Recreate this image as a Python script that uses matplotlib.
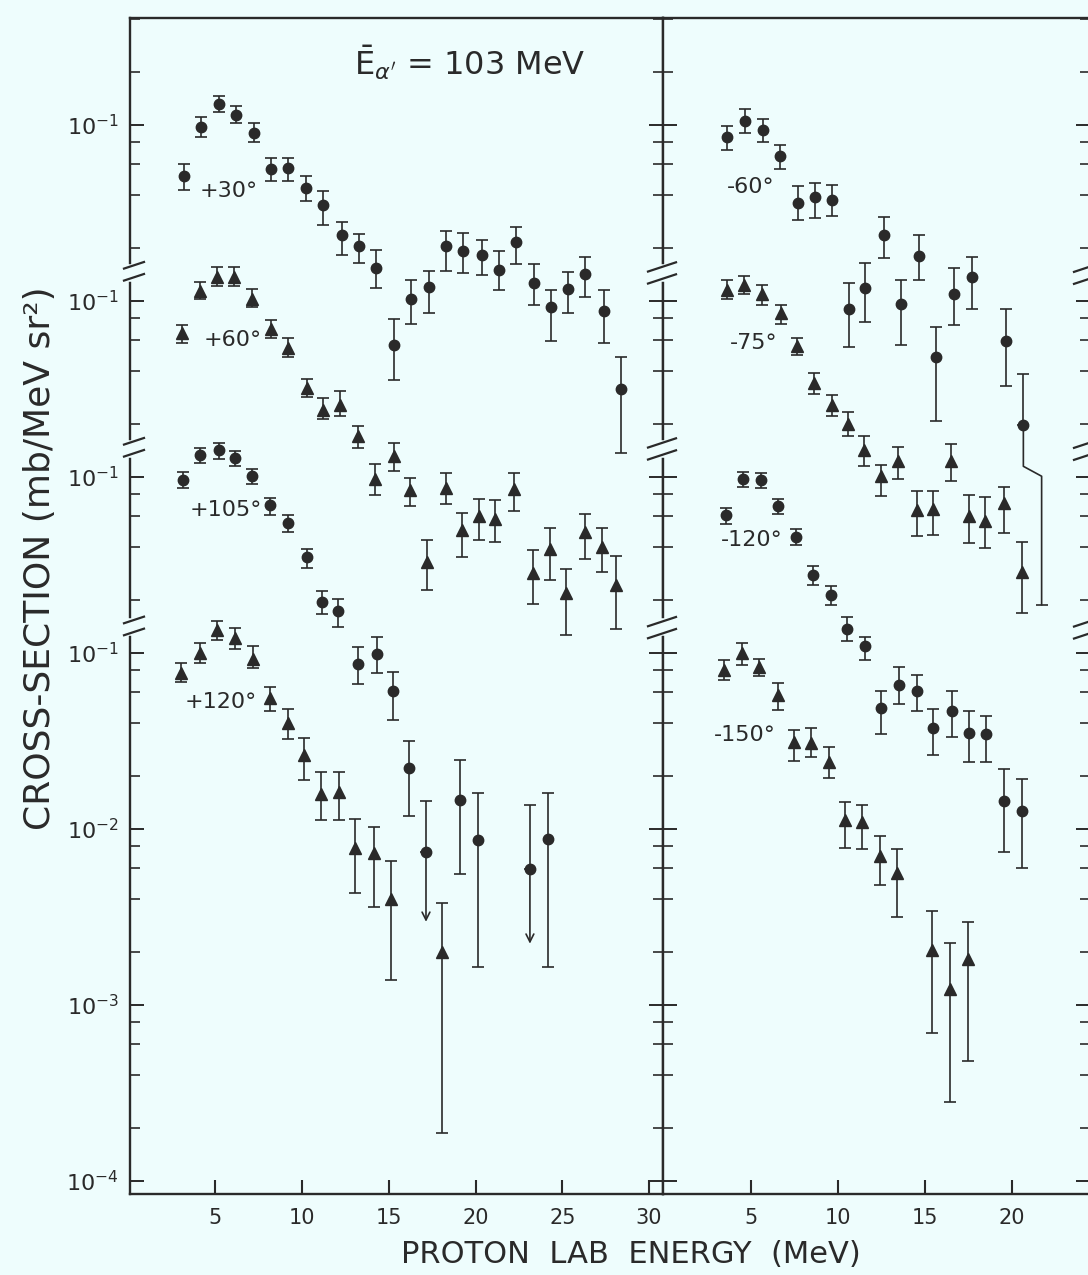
import numpy as np
import matplotlib
matplotlib.use("Agg")
import matplotlib.pyplot as plt
from matplotlib.lines import Line2D
from matplotlib.transforms import IdentityTransform
from matplotlib.ticker import FixedLocator, FixedFormatter, LogLocator, NullFormatter

plt.rcParams["font.family"] = ["DejaVu Sans"]
plt.rcParams["mathtext.fontset"] = "dejavusans"

BG = "#eefdfd"
INK = "#2a2a2a"

# ── data: proton energy (MeV), cross-section, lower / upper error ends ──
# left panel, positive angles
E_P30 = [3.2, 4.2, 5.2, 6.2, 7.2, 8.2, 9.2, 10.25, 11.2, 12.3, 13.3, 14.25, 15.3,
         16.3, 17.3, 18.3, 19.3, 20.35, 21.35, 22.35, 23.35, 24.35, 25.3, 26.3, 27.4, 28.4]
Y_P30 = [0.0512, 0.098, 0.132, 0.114, 0.090, 0.056, 0.057, 0.044, 0.035, 0.0238, 0.0205,
         0.0155, 0.0056, 0.0102, 0.0120, 0.0205, 0.0192, 0.0182, 0.0150, 0.0216, 0.0127,
         0.0092, 0.0117, 0.0142, 0.0088, 0.00316]
LO_P30 = [0.043, 0.0855, 0.118, 0.102, 0.080, 0.048, 0.048, 0.037, 0.027, 0.0182, 0.0165,
          0.0119, 0.00354, 0.0074, 0.0085, 0.0149, 0.0144, 0.0140, 0.0116, 0.0163, 0.0095,
          0.0059, 0.0085, 0.0105, 0.0058, 0.00137]
HI_P30 = [0.060, 0.111, 0.147, 0.129, 0.102, 0.065, 0.065, 0.051, 0.042, 0.028, 0.024,
          0.0196, 0.0079, 0.0131, 0.0148, 0.025, 0.0243, 0.0223, 0.0192, 0.0262, 0.0162,
          0.0116, 0.0146, 0.0177, 0.0116, 0.00479]

E_P60 = [3.06, 4.1, 5.1, 6.1, 7.1, 8.2, 9.2, 10.3, 11.2, 12.2, 13.2, 14.2, 15.3, 16.2,
         17.2, 18.3, 19.2, 20.2, 21.1, 22.2, 23.3, 24.3, 25.2, 26.3, 27.3, 28.1]
Y_P60 = [0.066, 0.114, 0.137, 0.137, 0.102, 0.069, 0.054, 0.032, 0.024, 0.0258, 0.0170,
         0.0097, 0.0131, 0.0084, 0.0033, 0.0087, 0.0050, 0.0060, 0.0058, 0.0085, 0.00285,
         0.0039, 0.0022, 0.00485, 0.0040, 0.00244]
LO_P60 = [0.058, 0.103, 0.122, 0.122, 0.092, 0.062, 0.048, 0.0285, 0.0214, 0.0223, 0.0146,
          0.0079, 0.0108, 0.0068, 0.00227, 0.0070, 0.00351, 0.0044, 0.0043, 0.0064, 0.0019,
          0.00261, 0.00126, 0.0034, 0.0029, 0.00137]
HI_P60 = [0.073, 0.129, 0.156, 0.156, 0.117, 0.078, 0.062, 0.036, 0.028, 0.0307, 0.0194,
          0.0119, 0.0155, 0.0099, 0.0044, 0.0106, 0.00624, 0.0075, 0.0074, 0.0106, 0.00386,
          0.0051, 0.0030, 0.0062, 0.0051, 0.00354]

E_P105 = [3.13, 4.11, 5.19, 6.14, 7.14, 8.13, 9.16, 10.26, 11.17, 12.09, 13.2, 14.3, 15.23,
          16.14, 17.14, 19.12, 20.16, 23.13, 24.17]
Y_P105 = [0.0965, 0.133, 0.142, 0.128, 0.101, 0.069, 0.055, 0.0351, 0.0195, 0.0173, 0.0087,
          0.0099, 0.00606, 0.00223, 0.00074, 0.00146, 0.00087, 0.00059, 0.00088]
LO_P105 = [0.0865, 0.120, 0.126, 0.115, 0.091, 0.061, 0.049, 0.0304, 0.0167, 0.0141, 0.0067,
           0.0077, 0.00415, 0.00119, np.nan, 0.000557, 0.000164, np.nan, 0.000164]
HI_P105 = [0.107, 0.147, 0.157, 0.140, 0.111, 0.076, 0.061, 0.0388, 0.0224, 0.0202, 0.0108,
           0.0123, 0.0078, 0.00315, 0.00144, 0.00245, 0.0016, 0.00136, 0.0016]
# upper limits drawn as arrows
ARROW_E_P105 = [17.14, 23.13]
ARROW_FROM_P105 = [0.00074, 0.00059]
ARROW_TO_P105 = [0.000297, 0.000223]

E_P120 = [3.02, 4.1, 5.1, 6.14, 7.17, 8.17, 9.18, 10.12, 11.07, 12.14, 13.06, 14.15, 15.15, 18.06]
Y_P120 = [0.0768, 0.100, 0.135, 0.121, 0.093, 0.0553, 0.0399, 0.0263, 0.0158, 0.0163,
          0.0078, 0.0073, 0.0040, 0.00201]
LO_P120 = [0.0687, 0.088, 0.118, 0.106, 0.082, 0.047, 0.0323, 0.019, 0.0112, 0.0112,
           0.00435, 0.00359, 0.00139, 0.000187]
HI_P120 = [0.0874, 0.114, 0.151, 0.138, 0.110, 0.0638, 0.048, 0.0328, 0.0212, 0.0212,
           0.0114, 0.0103, 0.0066, 0.0038]

# right panel, negative angles
E_M60 = [3.66, 4.67, 5.72, 6.68, 7.74, 8.7, 9.66, 10.65, 11.57, 12.66, 13.62, 14.67, 15.65,
         16.68, 17.7, 19.67, 20.67]
Y_M60 = [0.0851, 0.105, 0.094, 0.067, 0.0362, 0.0388, 0.0374, 0.0090, 0.0119, 0.0236, 0.0096,
         0.0180, 0.0048, 0.0110, 0.0136, 0.0059, 0.00198]
LO_M60 = [0.072, 0.090, 0.080, 0.056, 0.0287, 0.0296, 0.0303, 0.00546, 0.0076, 0.0176, 0.0056,
          0.0132, 0.00207, 0.0073, 0.0090, 0.00327, np.nan]
HI_M60 = [0.099, 0.123, 0.108, 0.077, 0.0448, 0.0468, 0.0458, 0.0126, 0.0164, 0.0300, 0.0131,
          0.0238, 0.0071, 0.0155, 0.0177, 0.0090, 0.00386]
# lower error of the last -60 point is drawn displaced to the right
KINK_E_M60 = [20.67, 20.67, 21.72, 21.72]
KINK_Y_M60 = [0.00198, 0.00115, 0.00101, 0.000188]

E_M75 = [3.62, 4.63, 5.63, 6.74, 7.68, 8.64, 9.66, 10.57, 11.51, 12.47, 13.45, 14.57, 15.49,
         16.51, 17.55, 18.47, 19.56, 20.57]
Y_M75 = [0.116, 0.124, 0.110, 0.0855, 0.0557, 0.0342, 0.0255, 0.0201, 0.0143, 0.0101, 0.0123,
         0.0065, 0.0066, 0.0123, 0.0060, 0.0056, 0.0071, 0.0029]
LO_M75 = [0.103, 0.110, 0.0945, 0.074, 0.0496, 0.0298, 0.0221, 0.0172, 0.0115, 0.0078, 0.0097,
          0.0046, 0.0047, 0.0095, 0.0042, 0.00395, 0.0048, 0.00169]
HI_M75 = [0.132, 0.139, 0.124, 0.0953, 0.0617, 0.039, 0.0294, 0.0234, 0.0170, 0.0117, 0.0148,
          0.0083, 0.0083, 0.0154, 0.0079, 0.0077, 0.0088, 0.0043]

E_M120 = [3.58, 4.57, 5.59, 6.55, 7.6, 8.6, 9.6, 10.52, 11.57, 12.47, 13.54, 14.57, 15.49,
          16.55, 17.55, 18.52, 19.57, 20.57]
Y_M120 = [0.0606, 0.097, 0.096, 0.068, 0.0456, 0.0276, 0.0213, 0.0137, 0.0109, 0.00487,
          0.0066, 0.0061, 0.00375, 0.0047, 0.00351, 0.00345, 0.00144, 0.00126]
LO_M120 = [0.0543, 0.0877, 0.087, 0.062, 0.0413, 0.0242, 0.0187, 0.0117, 0.0091, 0.00345,
           0.0051, 0.0047, 0.00262, 0.00333, 0.0024, 0.0024, 0.00074, 0.0006]
HI_M120 = [0.067, 0.107, 0.106, 0.075, 0.0505, 0.0311, 0.024, 0.0160, 0.0124, 0.0061,
           0.0083, 0.0075, 0.0048, 0.0061, 0.00467, 0.0044, 0.00218, 0.00193]

E_M150 = [3.48, 4.48, 5.49, 6.59, 7.51, 8.47, 9.5, 10.42, 11.41, 12.43, 13.39, 15.4, 16.45, 17.47]
Y_M150 = [0.080, 0.0996, 0.0836, 0.0577, 0.0314, 0.031, 0.0241, 0.0112, 0.0110, 0.0070,
          0.00565, 0.00205, 0.00124, 0.00182]
LO_M150 = [0.070, 0.086, 0.074, 0.0474, 0.0244, 0.0255, 0.0196, 0.0078, 0.0077, 0.0048,
           0.00318, 0.00069, 0.00028, 0.00048]
HI_M150 = [0.091, 0.114, 0.093, 0.0678, 0.0365, 0.0373, 0.0294, 0.0143, 0.0136, 0.0091,
           0.0077, 0.0034, 0.00224, 0.00295]

# each curve is displaced by a decade on the plot
SHIFT = {"30": 1e3, "60": 1e2, "105": 1e1, "120": 1.0}

Y_TICKS = [1e-4, 1e-3, 1e-2, 1e-1, 1e0, 1e1, 1e2]
Y_TICKLABELS = [r"$10^{-4}$", r"$10^{-3}$", r"$10^{-2}$", r"$10^{-1}$",
                r"$10^{-1}$", r"$10^{-1}$", r"$10^{-1}$"]
BREAKS_Y = [0.14, 1.45, 14.5]

# ── layout (pixels) ──
W, H = 1088, 1275
TOP, BOT = 18, 1194
YLIM = (10 ** -4.074, 10 ** 2.608)

fig = plt.figure(figsize=(W / 100, H / 100), dpi=100, facecolor=BG)


def px_rect(x0, x1):
    return [x0 / W, 1 - BOT / H, (x1 - x0) / W, (BOT - TOP) / H]


axL = fig.add_axes(px_rect(130, 663))
axR = fig.add_axes(px_rect(663, 1090))


def style_axis(ax, xlim, xticks, ylabels):
    ax.set_facecolor(BG)
    ax.set_yscale("log")
    ax.set_ylim(*YLIM)
    ax.set_xlim(*xlim)
    ax.set_xticks(xticks)
    ax.set_xticklabels([str(t) for t in xticks])
    ax.yaxis.set_major_locator(FixedLocator(Y_TICKS))
    ax.yaxis.set_major_formatter(FixedFormatter(Y_TICKLABELS))
    ax.yaxis.set_minor_locator(LogLocator(base=10, subs=(2, 4, 6, 8), numticks=50))
    ax.yaxis.set_minor_formatter(NullFormatter())
    for sp in ax.spines.values():
        sp.set_color(INK)
        sp.set_linewidth(1.7)
    ax.tick_params(axis="x", which="major", direction="in", length=10, width=1.5,
                   colors=INK, labelsize=15, pad=10, top=False)
    ax.tick_params(axis="y", which="major", direction="in", length=10, width=1.4,
                   colors=INK, labelsize=16, left=True, right=True, labelleft=ylabels, pad=8)
    ax.tick_params(axis="y", which="minor", direction="in", length=7, width=1.2,
                   colors=INK, left=True, right=True)
    ax.tick_params(axis="x", which="minor", bottom=False, top=False)


style_axis(axL, (0.08, 30.8), [5, 10, 15, 20, 25, 30], True)
style_axis(axR, (-0.04, 24.5), [5, 10, 15, 20], False)


def draw_series(ax, e, y, lo, hi, marker, shift, ms):
    y = np.asarray(y) * shift
    lo = np.asarray(lo, dtype=float) * shift
    hi = np.asarray(hi) * shift
    lo = np.where(np.isnan(lo), y, lo)
    ax.errorbar(e, y, yerr=[y - lo, hi - y], fmt=marker, ms=ms, color=INK, mec=INK,
                ecolor=INK, elinewidth=1.2, capsize=4.5, capthick=1.2, zorder=3)


draw_series(axL, E_P30, Y_P30, LO_P30, HI_P30, "o", SHIFT["30"], 7.5)
draw_series(axL, E_P60, Y_P60, LO_P60, HI_P60, "^", SHIFT["60"], 8.5)
draw_series(axL, E_P105, Y_P105, LO_P105, HI_P105, "o", SHIFT["105"], 7.5)
draw_series(axL, E_P120, Y_P120, LO_P120, HI_P120, "^", SHIFT["120"], 8.5)

draw_series(axR, E_M60, Y_M60, LO_M60, HI_M60, "o", SHIFT["30"], 7.5)
draw_series(axR, E_M75, Y_M75, LO_M75, HI_M75, "^", SHIFT["60"], 8.5)
draw_series(axR, E_M120, Y_M120, LO_M120, HI_M120, "o", SHIFT["105"], 7.5)
draw_series(axR, E_M150, Y_M150, LO_M150, HI_M150, "^", SHIFT["120"], 8.5)

for e, y0, y1 in zip(ARROW_E_P105, ARROW_FROM_P105, ARROW_TO_P105):
    axL.annotate("", xy=(e, y1 * SHIFT["105"]), xytext=(e, y0 * SHIFT["105"]),
                 arrowprops=dict(arrowstyle="->", color=INK, lw=1.2, mutation_scale=14,
                                 shrinkA=0, shrinkB=0))

kink_y = np.asarray(KINK_Y_M60) * SHIFT["30"]
axR.plot(KINK_E_M60, kink_y, color=INK, lw=1.2, zorder=3)
axR.plot(KINK_E_M60[-1:], kink_y[-1:], marker="_", ms=9, mew=1.2, color=INK)

# angle labels (axes fractions)
for ax, txt, xf, yf in [
    (axL, "+30°", 0.186, 0.853), (axL, "+60°", 0.193, 0.726),
    (axL, "+105°", 0.180, 0.582), (axL, "+120°", 0.171, 0.418),
    (axR, "-60°", 0.206, 0.856), (axR, "-75°", 0.213, 0.724),
    (axR, "-120°", 0.208, 0.556), (axR, "-150°", 0.192, 0.390),
]:
    ax.text(xf, yf, txt, transform=ax.transAxes, fontsize=16, color=INK,
            ha="center", va="center")

fig.text(0.432, 0.951, r"$\bar{\mathrm{E}}_{\alpha'}$ = 103 MeV", fontsize=23,
         color=INK, ha="center", va="center")
fig.text(0.037, 0.562, "CROSS-SECTION (mb/MeV sr²)", rotation=90, fontsize=26,
         color=INK, ha="center", va="center")
fig.text(0.580, 0.0157, "PROTON  LAB  ENERGY  (MeV)", fontsize=22, color=INK,
         ha="center", va="center")


# axis-break marks "//"
def break_mark(ax, xfrac, yval, left, right):
    xd = ax.transAxes.transform((xfrac, 0.5))[0]
    yd = ax.transData.transform((ax.get_xlim()[0], yval))[1]
    fig.add_artist(Line2D([xd, xd], [yd - 6, yd + 6], color=BG, lw=4,
                          transform=IdentityTransform(), zorder=5))
    for off in (-6, 6):
        fig.add_artist(Line2D([xd - left, xd + right],
                              [yd + off - 0.33 * left, yd + off + 0.33 * right],
                              color=INK, lw=1.6, transform=IdentityTransform(), zorder=6))


for yb in BREAKS_Y:
    break_mark(axL, 0.0, yb, 6, 14)
    break_mark(axL, 1.0, yb, 15, 13)
    break_mark(axR, 1.0, yb, 16, 6)

fig.savefig("out.png", dpi=100, facecolor=BG)
